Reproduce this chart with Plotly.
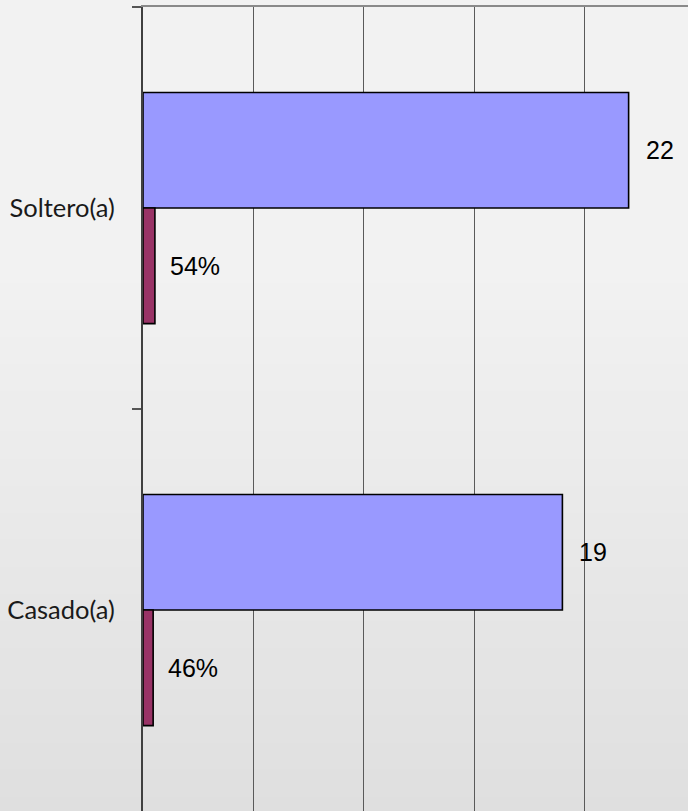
import plotly.graph_objects as go

categories = ["Soltero(a)", "Casado(a)"]
counts = [22, 19]
percentages = [0.54, 0.46]

W, H = 688, 811
ML, MR, MT, MB = 143, 0, 7, 0
x_range = [0, 24.69]

fig = go.Figure()
fig.add_trace(go.Bar(
    y=categories, x=counts, orientation="h", name="Cantidad",
    marker=dict(color="#9999FF", line=dict(color="#000000", width=1.6)),
    hoverinfo="x+y",
))
fig.add_trace(go.Bar(
    y=categories, x=percentages, orientation="h", name="Porcentaje",
    marker=dict(color="#993366", line=dict(color="#000000", width=1.6)),
    hoverinfo="x+y",
))

# background vertical gradient (light gray to slightly darker at the bottom)
plot_w = W - ML - MR
plot_h = H - MT - MB
shapes = []
n = 60
for i in range(n):
    y_top_px = i * H / n
    y_bot_px = (i + 1) * H / n
    mid = (y_top_px + y_bot_px) / 2
    if mid < 270:
        v = 242
    else:
        v = 242 - (mid - 270) / (H - 270) * 19
    v = int(round(v))
    col = f"rgb({v},{v},{v})"
    y0 = (H - MB - y_bot_px) / plot_h
    y1 = (H - MB - y_top_px) / plot_h
    shapes.append(dict(type="rect", xref="paper", yref="paper",
                       x0=-ML / plot_w - 0.01, x1=1.01, y0=y0, y1=y1 + 0.001,
                       fillcolor=col, line=dict(width=0), layer="below"))

# data labels
bar_offset_px = 57.8
label_font = dict(family="Liberation Sans, Arial", size=25, color="#000000")
annotations = []
for cat, c, p in zip(categories, counts, percentages):
    annotations.append(dict(x=c, y=cat, xref="x", yref="y", text=str(c),
                            showarrow=False, xanchor="left", yanchor="middle",
                            xshift=15, yshift=bar_offset_px, font=label_font))
    annotations.append(dict(x=p, y=cat, xref="x", yref="y", text=f"{round(p * 100)}%",
                            showarrow=False, xanchor="left", yanchor="middle",
                            xshift=13, yshift=-bar_offset_px, font=label_font))

fig.update_layout(
    width=W, height=H,
    margin=dict(l=ML, r=MR, t=MT, b=MB, pad=0),
    barmode="group", bargap=0.425, bargroupgap=0,
    showlegend=False,
    paper_bgcolor="#f2f2f2",
    plot_bgcolor="rgba(0,0,0,0)",
    shapes=shapes,
    annotations=annotations,
    xaxis=dict(range=x_range, side="top", dtick=5, tick0=0,
               showgrid=True, gridcolor="#5a5a5a", gridwidth=1,
               showline=True, linecolor="#8a8a8a", linewidth=2,
               showticklabels=False, ticks="", zeroline=False, fixedrange=True),
    yaxis=dict(type="category", categoryorder="array", categoryarray=categories,
               autorange="reversed", tickson="boundaries",
               ticks="outside", ticklen=9, tickcolor="#555555", tickwidth=1.5,
               showgrid=False, showline=True, linecolor="#404040", linewidth=2,
               ticklabelstandoff=21,
               tickfont=dict(family="Lato, Carlito, Calibri", size=25.5, color="#1a1a1a"),
               fixedrange=True),
)

fig.write_html("out.html", config={"displayModeBar": False},
               post_script="document.body.style.margin='0';document.body.style.padding='0';")
